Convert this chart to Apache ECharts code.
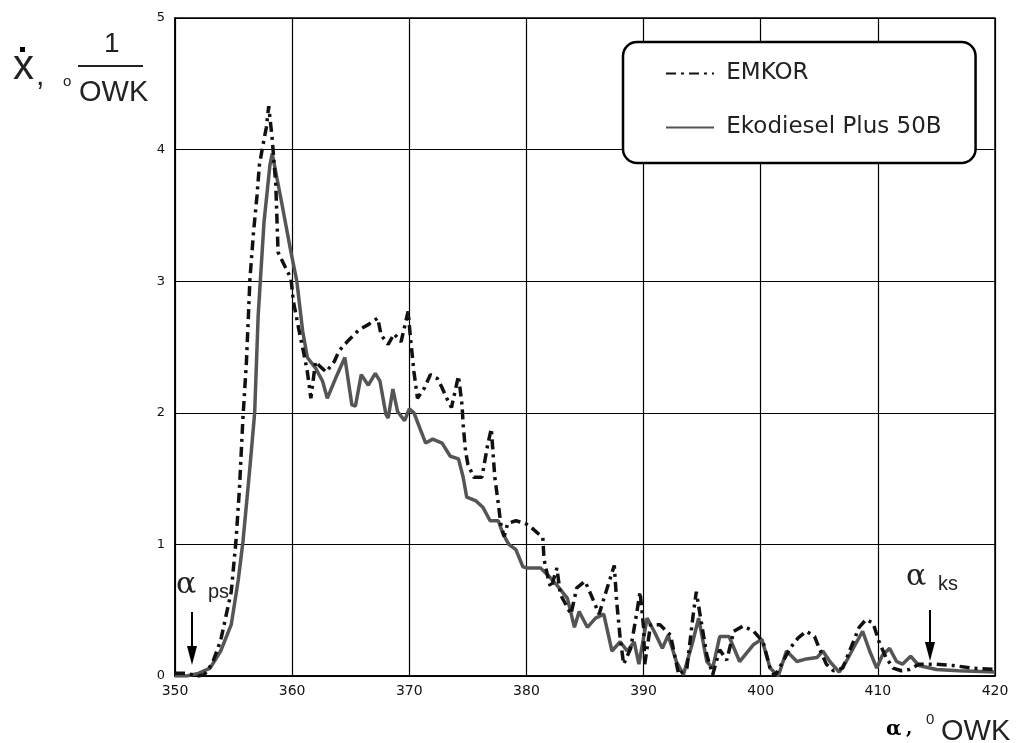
<!DOCTYPE html>
<html>
<head>
<meta charset="utf-8">
<style>
  html, body { margin: 0; padding: 0; background: #fff; }
  #chart { width: 1018px; height: 743px; }
</style>
<script src="https://cdn.jsdelivr.net/npm/echarts@6/dist/echarts.min.js"></script>
</head>
<body>
<div id="chart"></div>
<script>
// x axis: crank angle, deg OWK
const xTicks = [350, 360, 370, 380, 390, 400, 410, 420]
const yTicks = [0, 1, 2, 3, 4, 5]

// EMKOR (dash-dot)
const emkorAngle = [
  350.0, 351.0, 352.0, 352.5, 353.2, 353.9, 354.8, 355.2, 355.5, 355.8,
  356.1, 356.4, 356.7, 357.0, 357.2, 357.5, 357.8, 358.0, 358.3, 358.6,
  358.8, 359.4, 359.9, 360.1, 360.6, 361.0, 361.3, 361.6, 362.0, 362.3,
  362.9, 363.6, 364.0, 364.8, 365.7, 366.5, 367.3, 367.6, 368.2, 368.7,
  369.3, 369.9, 370.1, 370.4, 370.7, 371.3, 371.8, 372.4, 372.8, 373.2,
  373.6, 374.2, 374.5, 374.6, 374.8, 375.0, 375.5, 376.2, 376.7, 377.0,
  377.3, 377.6, 377.8, 378.1, 378.4, 379.1, 379.9, 380.4, 381.4, 381.5,
  381.9, 382.1, 382.6, 382.9, 383.8, 384.3, 385.0, 385.5, 386.2, 386.9,
  387.5, 387.7, 388.0, 388.3, 388.9, 389.4, 389.7, 390.0, 390.1, 390.6,
  391.4, 392.3, 393.0, 393.7, 394.2, 394.5, 395.0, 395.4, 395.9, 396.5,
  397.1, 397.7, 398.5, 399.4, 400.2, 400.8, 401.2, 401.9, 402.5, 403.2,
  403.9, 404.6, 405.0, 405.6, 406.2, 407.0, 407.9, 408.4, 409.0, 409.6,
  410.1, 410.7, 411.3, 412.0, 412.7, 413.5, 415.0, 416.4, 418.1, 420.0
]
const emkorValue = [
  0.02, 0.02, 0.00, 0.01, 0.10, 0.27, 0.64, 1.02, 1.42, 1.96,
  2.39, 3.02, 3.37, 3.65, 3.88, 4.03, 4.17, 4.33, 4.08, 3.74,
  3.22, 3.11, 3.02, 2.85, 2.62, 2.45, 2.31, 2.11, 2.39, 2.36,
  2.31, 2.39, 2.47, 2.55, 2.63, 2.67, 2.72, 2.59, 2.52, 2.60,
  2.54, 2.77, 2.57, 2.31, 2.11, 2.19, 2.29, 2.26, 2.19, 2.11,
  2.04, 2.28, 2.06, 1.91, 1.71, 1.61, 1.51, 1.51, 1.76, 1.88,
  1.51, 1.31, 1.16, 1.06, 1.16, 1.18, 1.16, 1.13, 1.05, 0.89,
  0.72, 0.67, 0.82, 0.62, 0.47, 0.67, 0.72, 0.62, 0.47, 0.67,
  0.84, 0.57, 0.29, 0.09, 0.21, 0.47, 0.64, 0.37, 0.09, 0.39,
  0.39, 0.31, 0.01, 0.06, 0.44, 0.64, 0.37, 0.16, 0.01, 0.20,
  0.12, 0.34, 0.38, 0.34, 0.26, 0.06, 0.00, 0.11, 0.21, 0.29,
  0.34, 0.30, 0.21, 0.09, 0.04, 0.06, 0.26, 0.37, 0.43, 0.40,
  0.26, 0.14, 0.06, 0.04, 0.05, 0.09, 0.09, 0.08, 0.06, 0.05
]

// Ekodiesel Plus 50B (solid grey)
const ekoAngle = [
  350.0, 351.0, 352.0, 353.0, 353.9, 354.8, 355.4, 355.8, 356.4, 356.8,
  357.1, 357.6, 358.1, 358.3, 359.1, 359.9, 360.4, 360.9, 361.3, 362.0,
  362.6, 363.0, 363.7, 364.5, 365.1, 365.4, 365.9, 366.5, 367.1, 367.5,
  368.0, 368.2, 368.6, 369.0, 369.6, 370.0, 370.4, 371.0, 371.4, 372.0,
  372.8, 373.5, 374.2, 374.6, 374.9, 375.7, 376.3, 376.9, 377.6, 378.0,
  378.5, 379.1, 379.7, 380.1, 381.2, 381.8, 382.6, 383.5, 384.1, 384.5,
  385.2, 385.9, 386.6, 387.3, 388.0, 388.6, 389.2, 389.6, 390.3, 390.9,
  391.6, 392.1, 392.8, 393.4, 394.2, 394.7, 395.4, 395.9, 396.5, 397.3,
  398.2, 399.4, 400.1, 400.8, 401.5, 402.2, 403.1, 403.9, 404.8, 405.3,
  405.9, 406.7, 407.3, 408.2, 408.7, 409.3, 409.9, 410.4, 411.0, 411.6,
  412.1, 412.8, 413.5, 415.0, 416.9, 420.0
]
const ekoValue = [
  0.00, 0.00, 0.02, 0.06, 0.19, 0.39, 0.73, 1.02, 1.59, 2.00,
  2.74, 3.45, 3.88, 3.97, 3.60, 3.22, 3.00, 2.62, 2.42, 2.34,
  2.24, 2.11, 2.26, 2.42, 2.06, 2.05, 2.29, 2.21, 2.30, 2.24,
  1.99, 1.96, 2.18, 2.01, 1.94, 2.03, 2.00, 1.86, 1.77, 1.80,
  1.77, 1.67, 1.65, 1.51, 1.36, 1.33, 1.28, 1.18, 1.18, 1.08,
  1.00, 0.96, 0.83, 0.82, 0.82, 0.77, 0.69, 0.59, 0.37, 0.49,
  0.37, 0.44, 0.47, 0.19, 0.26, 0.19, 0.26, 0.09, 0.44, 0.34,
  0.21, 0.31, 0.11, 0.01, 0.26, 0.44, 0.11, 0.06, 0.30, 0.30,
  0.11, 0.24, 0.28, 0.06, 0.00, 0.19, 0.11, 0.13, 0.14, 0.19,
  0.11, 0.03, 0.11, 0.26, 0.34, 0.19, 0.06, 0.16, 0.21, 0.11,
  0.09, 0.15, 0.08, 0.05, 0.04, 0.03
]

const pairs = (xs, ys) => xs.map((x, i) => [x, ys[i]])

const chart = echarts.init(document.getElementById('chart'))

const option = {
  backgroundColor: '#fff',
  animation: false,
  grid: {
    left: 175,
    right: 23,
    top: 18,
    bottom: 67,
    show: true,
    borderColor: '#000',
    borderWidth: 1.5
  },
  xAxis: {
    type: 'value',
    min: xTicks[0],
    max: xTicks[xTicks.length - 1],
    interval: 10,
    axisLine: { lineStyle: { color: '#000', width: 1.5 } },
    axisTick: { show: false },
    axisLabel: { color: '#111', fontFamily: 'DejaVu Sans', fontSize: 14, margin: 8 },
    splitLine: { lineStyle: { color: '#000', width: 1.2 } }
  },
  yAxis: {
    type: 'value',
    min: yTicks[0],
    max: yTicks[yTicks.length - 1],
    interval: 1,
    axisLine: { show: true, lineStyle: { color: '#000', width: 1.5 } },
    axisTick: { show: false },
    axisLabel: { color: '#111', fontFamily: 'DejaVu Sans', fontSize: 13, margin: 10 },
    splitLine: { lineStyle: { color: '#000', width: 1.2 } }
  },
  legend: {
    left: 623,
    top: 42,
    orient: 'vertical',
    itemWidth: 48,
    itemHeight: 14,
    itemGap: 31,
    padding: [20, 34, 24, 42],
    backgroundColor: '#fff',
    borderColor: '#000',
    borderWidth: 2.5,
    borderRadius: 14,
    itemStyle: { opacity: 0 },
    formatter: ' {name}',
    textStyle: { color: '#222', fontFamily: 'DejaVu Sans', fontSize: 23 },
    data: ['EMKOR', 'Ekodiesel Plus 50B']
  },
  series: [
    {
      name: 'EMKOR',
      type: 'line',
      data: pairs(emkorAngle, emkorValue),
      symbol: 'none',
      z: 4,
      lineStyle: { color: '#111', width: 3.5, type: [10, 5, 3, 5] },
      itemStyle: { color: '#111' }
    },
    {
      name: 'Ekodiesel Plus 50B',
      type: 'line',
      data: pairs(ekoAngle, ekoValue),
      symbol: 'none',
      z: 3,
      lineStyle: { color: '#555', width: 3.5 },
      itemStyle: { color: '#555' }
    }
  ],
  graphic: [
    // y axis title: x-dot, 1/OWK
    { type: 'text', left: 13, top: 46, style: { text: 'x', font: '42px "Liberation Sans"', fill: '#222' } },
    { type: 'text', left: 36, top: 62, style: { text: ',', font: '30px "Liberation Sans"', fill: '#222' } },
    { type: 'rect', shape: { x: 20, y: 47, width: 5, height: 5 }, style: { fill: '#000' } },
    { type: 'text', left: 63, top: 74, style: { text: 'o', font: '15px "Liberation Sans"', fill: '#222' } },
    { type: 'text', left: 104, top: 30, style: { text: '1', font: '28px "Liberation Sans"', fill: '#222' } },
    { type: 'line', shape: { x1: 78, y1: 66, x2: 143, y2: 66 }, style: { stroke: '#222', lineWidth: 2 } },
    { type: 'text', left: 79, top: 78, style: { text: 'OWK', font: '29px "Liberation Sans"', fill: '#222' } },
    // x axis title
    { type: 'text', left: 886, top: 720, style: { text: 'α', font: 'bold 20px "DejaVu Serif"', fill: '#000' } },
    { type: 'text', left: 906, top: 720, style: { text: ',', font: 'bold 18px "DejaVu Serif"', fill: '#000' } },
    { type: 'text', left: 926, top: 712, style: { text: '0', font: '15px "Liberation Sans"', fill: '#222' } },
    { type: 'text', left: 941, top: 717, style: { text: 'OWK', font: '29px "Liberation Sans"', fill: '#222' } },
    // start of combustion marker
    { type: 'text', left: 176, top: 570, style: { text: 'α', font: '30px "DejaVu Serif"', fill: '#222' } },
    { type: 'text', left: 208, top: 582, style: { text: 'ps', font: '20px "Liberation Sans"', fill: '#222' } },
    { type: 'line', shape: { x1: 192, y1: 612, x2: 192, y2: 650 }, style: { stroke: '#000', lineWidth: 2 } },
    { type: 'polygon', shape: { points: [[187, 646], [197, 646], [192, 665]] }, style: { fill: '#000' } },
    // end of combustion marker
    { type: 'text', left: 906, top: 562, style: { text: 'α', font: '30px "DejaVu Serif"', fill: '#222' } },
    { type: 'text', left: 938, top: 574, style: { text: 'ks', font: '20px "Liberation Sans"', fill: '#222' } },
    { type: 'line', shape: { x1: 930, y1: 610, x2: 930, y2: 646 }, style: { stroke: '#000', lineWidth: 2 } },
    { type: 'polygon', shape: { points: [[925, 642], [935, 642], [930, 661]] }, style: { fill: '#000' } }
  ]
}

chart.setOption(option)
</script>
</body>
</html>
